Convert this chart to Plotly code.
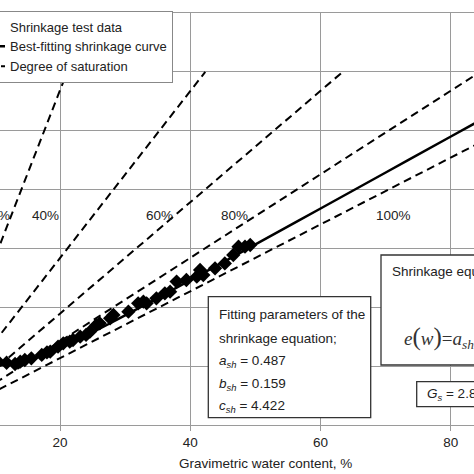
import plotly.graph_objects as go

# ---- data ----
test_w = [10.5, 11.8, 13.1, 13.9, 14.6, 15.6, 17.2, 18.0, 18.5, 19.7, 20.5, 21.5, 22.0, 23.1, 24.0,
          24.6, 25.6, 26.1, 27.7, 28.2, 30.5, 32.0, 32.8, 33.3, 34.8, 36.1, 36.9,
          37.9, 39.4, 41.0, 41.5, 42.0, 43.8, 45.3, 46.6, 47.4, 48.4, 49.2]
test_e = [0.538, 0.529, 0.518, 0.538, 0.552, 0.566, 0.595, 0.617, 0.623, 0.665, 0.694, 0.708, 0.722, 0.750, 0.765,
          0.793, 0.850, 0.864, 0.906, 0.935, 0.963, 1.034, 1.048, 1.034, 1.076, 1.119, 1.133,
          1.218, 1.232, 1.260, 1.317, 1.274, 1.331, 1.373, 1.444, 1.515, 1.515, 1.529]

curve_w = [8, 10, 12, 14, 16, 18, 20, 22, 25, 28, 31, 35, 40, 45, 50, 60, 70, 80, 86]
curve_e = [0.492, 0.501, 0.516, 0.539, 0.571, 0.611, 0.657, 0.707, 0.788, 0.873, 0.961, 1.079,
           1.230, 1.381, 1.534, 1.839, 2.145, 2.451, 2.634]

sat_labels = ["20%", "40%", "60%", "80%", "100%"]
sat_w_end = [21.1, 42.3, 63.4, 84.5, 100.0]
sat_e_end = [3.0, 3.0, 3.0, 3.0, 2.84]
sat_label_w = [12.6, 17.7, 35.3, 46.8, 71.2]
sat_label_e = 1.776

x_ticks = [20, 40, 60, 80]
params_text = ["Fitting parameters of the", "shrinkage equation;",
               "<i>a<sub>sh</sub></i> = 0.487", "<i>b<sub>sh</sub></i> = 0.159",
               "<i>c<sub>sh</sub></i> = 4.422"]
gs_text = "<i>G<sub>s</sub></i> = 2.84"

FONT = "Liberation Sans, Arial, sans-serif"
DASH = "8px,5px"

fig = go.Figure()

fig.add_trace(go.Scatter(x=test_w, y=test_e, mode="markers", name="Shrinkage test data",
                         marker=dict(symbol="diamond", size=11, color="black")))
fig.add_trace(go.Scatter(x=curve_w, y=curve_e, mode="lines", name="Best-fitting shrinkage curve",
                         line=dict(color="black", width=2.5, shape="spline")))
for i, lab in enumerate(sat_labels):
    fig.add_trace(go.Scatter(x=[0, sat_w_end[i]], y=[0, sat_e_end[i]], mode="lines",
                             name="Degree of saturation", legendgroup="sat", showlegend=(i == 0),
                             line=dict(color="black", width=2, dash=DASH)))

annotations = []
for i, lab in enumerate(sat_labels):
    annotations.append(dict(x=sat_label_w[i], y=sat_label_e, xref="x", yref="y", text=lab,
                            showarrow=False, xanchor="right" if i == 0 else "center",
                            font=dict(size=13.5, color="#222", family=FONT)))

py_lines = [314, 338, 361.5, 384, 406.5]
for t, py in zip(params_text, py_lines):
    annotations.append(dict(x=217 / 474, y=(425 - py) / 412, xref="paper", yref="paper", text=t,
                            showarrow=False, xanchor="left", yanchor="middle",
                            font=dict(size=13.5, color="#222", family=FONT)))

annotations.append(dict(x=390 / 474, y=(425 - 271.5) / 412, xref="paper", yref="paper",
                        text="Shrinkage equation", showarrow=False, xanchor="left", yanchor="middle",
                        font=dict(size=13.5, color="#222", family=FONT)))
annotations.append(dict(x=402 / 474, y=(425 - 329) / 412, xref="paper", yref="paper",
                        text="<i>e</i><span style='font-size:25px'>(</span><i>w</i>"
                             "<span style='font-size:25px'>)</span>=<i>a</i><sub><i>sh</i></sub>"
                             "<span style='font-size:46px'>[</span><span style='font-size:38px'>(</span>",
                        showarrow=False, xanchor="left", yanchor="middle",
                        font=dict(size=19, color="#333", family="Liberation Serif, Times New Roman, serif")))
annotations.append(dict(x=425 / 474, y=(425 - 394) / 412, xref="paper", yref="paper",
                        text=gs_text, showarrow=False, xanchor="left", yanchor="middle",
                        font=dict(size=13.5, color="#222", family=FONT)))
annotations.append(dict(x=265 / 474, y=(425 - 463) / 412, xref="paper", yref="paper",
                        text="Gravimetric water content, %", showarrow=False,
                        xanchor="center", yanchor="middle",
                        font=dict(size=13.5, color="#222", family=FONT)))

box = dict(type="rect", xref="paper", yref="paper", layer="above",
           line=dict(color="#333", width=1.3), fillcolor="white")
shapes = [
    dict(box, x0=208.3 / 474, x1=370.7 / 474, y0=(425 - 417.7) / 412, y1=(425 - 296.7) / 412),
    dict(box, x0=381 / 474, x1=1.1, y0=(425 - 365) / 412, y1=(425 - 255) / 412),
    dict(box, x0=416.7 / 474, x1=1.1, y0=(425 - 406.7) / 412, y1=(425 - 381.7) / 412),
]

fig.update_layout(
    width=474, height=474,
    margin=dict(l=0, r=0, t=13, b=49, autoexpand=False),
    paper_bgcolor="white", plot_bgcolor="white",
    font=dict(family=FONT, size=13.5, color="#222"),
    showlegend=True,
    legend=dict(x=-31 / 474, y=1 + 2.5 / 412, xanchor="left", yanchor="top",
                bgcolor="white", bordercolor="#888", borderwidth=1,
                font=dict(size=13, color="#222", family=FONT), tracegroupgap=0),
    xaxis=dict(range=[10.79, 83.55], tickvals=x_ticks, showgrid=True, gridcolor="#9a9a9a",
               gridwidth=1, zeroline=False, showline=True, linecolor="#9a9a9a", linewidth=1,
               mirror=True, ticks="outside", ticklen=5, tickcolor="#9a9a9a",
               tickfont=dict(size=13.5, color="#222", family=FONT)),
    yaxis=dict(range=[0, 3.5], dtick=0.5, showgrid=True, gridcolor="#9a9a9a", gridwidth=1,
               zeroline=False, showticklabels=False, showline=False, ticks=""),
    annotations=annotations,
    shapes=shapes,
)

fig.write_html("out.html", config={"displayModeBar": False},
               post_script="document.body.style.margin='0';document.body.style.overflow='hidden';")
